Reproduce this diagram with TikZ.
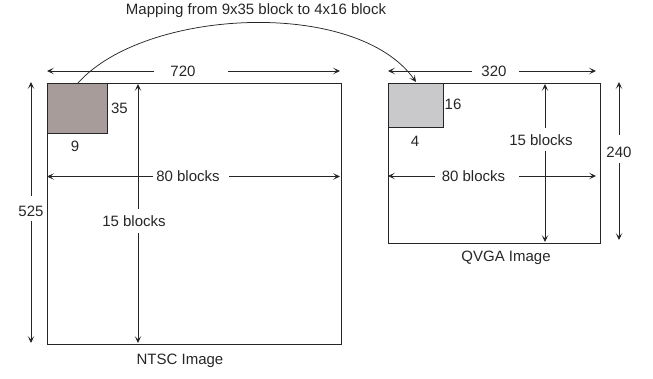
\documentclass[tikz,border=0pt]{standalone}
\usepackage{fontspec}
\setmainfont{Liberation Sans}
\usetikzlibrary{arrows.meta}
\definecolor{brownblk}{HTML}{A89C9A}
\definecolor{grayblk}{HTML}{C9C9CB}
\definecolor{ink}{HTML}{262626}
\begin{document}
\begin{tikzpicture}[x=1pt,y=-1pt, line width=0.75pt,
  half/.style={draw=ink,-{Stealth[length=7pt,width=6.5pt,inset=3.5pt]}},
  lbl/.style={font=\fontsize{15}{18}\selectfont, inner sep=0pt, text=ink},
  frame/.style={draw=ink, line width=1pt, inner sep=0pt, anchor=north west}]
\useasboundingbox (0,0) rectangle (653,379);

% frames
\node[frame, minimum width=293.5pt, minimum height=261pt] (ntsc) at (47,83) {};
\node[frame, fill=brownblk, minimum width=60pt, minimum height=50pt] (bblk) at (47,83) {};
\node[frame, minimum width=212pt, minimum height=160pt] (qvga) at (388,83) {};
\node[frame, fill=grayblk, minimum width=54.5pt, minimum height=44pt] (gblk) at (388,83) {};

% block labels
\node[lbl] (l35) at (119.5,108) {35};
\node[lbl] (l9) at (75,146) {9};
\node[lbl] (l16) at (453,104) {16};
\node[lbl] (l4) at (415,141) {4};

% captions
\node[lbl] (cntsc) at (180,361) {NTSC Image};
\node[lbl] (cqvga) at (506,258) {QVGA Image};
\node[lbl] (title) at (256,11) {Mapping from 9x35 block to 4x16 block};

% NTSC width 720
\node[lbl] (t720) at (183,71) {720};
\coordinate (w1gl) at (154,71); \coordinate (w1gr) at (228,71);
\coordinate (w1l) at (47,71); \coordinate (w1r) at (340,71);
\draw[half] (w1gl) -- (w1l);
\draw[half] (w1gr) -- (w1r);

% NTSC height 525
\node[lbl] (t525) at (31,211) {525};
\coordinate (h1gt) at (31,196); \coordinate (h1gb) at (31,221);
\coordinate (h1t) at (31,82); \coordinate (h1b) at (31,343);
\draw[half] (h1gt) -- (h1t);
\draw[half] (h1gb) -- (h1b);

% NTSC 15 blocks
\node[lbl] (t15a) at (134,221) {15 blocks};
\coordinate (b1gt) at (138,209); \coordinate (b1gb) at (138,233);
\coordinate (b1t) at (138,84); \coordinate (b1b) at (138,343);
\draw[half] (b1gt) -- (b1t);
\draw[half] (b1gb) -- (b1b);

% NTSC 80 blocks
\node[lbl] (t80a) at (188,176.5) {80 blocks};
\coordinate (f1gl) at (152.5,176.5); \coordinate (f1gr) at (229,176.5);
\coordinate (f1l) at (47,176.5); \coordinate (f1r) at (340,176.5);
\draw[half] (f1gl) -- (f1l);
\draw[half] (f1gr) -- (f1r);

% QVGA width 320
\node[lbl] (t320) at (494,71) {320};
\coordinate (w2gl) at (471.5,71); \coordinate (w2gr) at (519,71);
\coordinate (w2l) at (388,71); \coordinate (w2r) at (596,71);
\draw[half] (w2gl) -- (w2l);
\draw[half] (w2gr) -- (w2r);

% QVGA height 240
\node[lbl] (t240) at (619,152.5) {240};
\coordinate (h2gt) at (619,135); \coordinate (h2gb) at (619,163);
\coordinate (h2t) at (619,82); \coordinate (h2b) at (619,240);
\draw[half] (h2gt) -- (h2t);
\draw[half] (h2gb) -- (h2b);

% QVGA 15 blocks
\node[lbl] (t15b) at (541,140) {15 blocks};
\coordinate (b2gt) at (545,128); \coordinate (b2gb) at (545,151.5);
\coordinate (b2t) at (545,84); \coordinate (b2b) at (545,242);
\draw[half] (b2gt) -- (b2t);
\draw[half] (b2gb) -- (b2b);

% QVGA 80 blocks
\node[lbl] (t80b) at (473.5,176) {80 blocks};
\coordinate (f2gl) at (435,176); \coordinate (f2gr) at (519,176);
\coordinate (f2l) at (388,176); \coordinate (f2r) at (596,176);
\draw[half] (f2gl) -- (f2l);
\draw[half] (f2gr) -- (f2r);

% mapping arc
\coordinate (arcs) at (78,83);
\coordinate (arce) at (416,82);
\draw[half] (arcs) .. controls (145,8) and (357,-2) .. (arce);
\end{tikzpicture}
\end{document}
